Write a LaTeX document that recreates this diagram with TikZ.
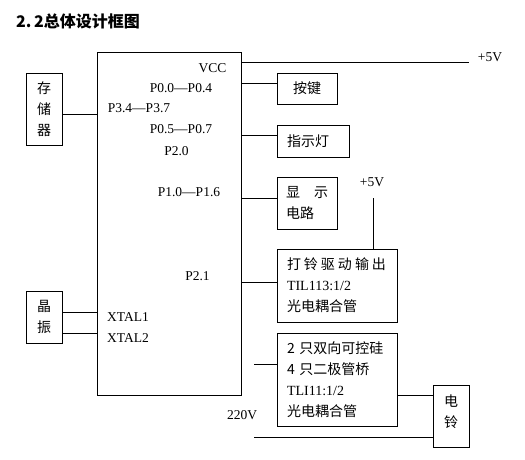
\documentclass[tikz,border=0pt]{standalone}
\usepackage{fontspec}
\setmainfont{Liberation Serif}
\newfontfamily\cjk{Noto Sans CJK SC}
\usetikzlibrary{positioning,calc}

\begin{document}
\begin{tikzpicture}[x=1pt,y=-1pt,
  box/.style={draw,line width=0.8pt,inner sep=0pt,font=\cjk\fontsize{14}{21}\selectfont},
  pin/.style={inner sep=0pt,font=\fontsize{13.5}{16}\selectfont},
  wire/.style={line width=0.8pt}]
  \useasboundingbox (0,0) rectangle (525,459);
  \node[anchor=west,inner sep=0pt,font=\cjk\bfseries\fontsize{16}{19}\selectfont] (title) at (16,21) {2.\,2总体设计框图};

  % single-chip controller
  \node[box,minimum width=144pt,minimum height=343pt] (mcu) at (169,223.5) {};
  \node[pin] (vcc) at (212.5,68) {VCC};
  \node[pin] (p00) at (181,88) {P0.0—P0.4};
  \node[pin] (p34) at (139,108) {P3.4—P3.7};
  \node[pin] (p05) at (181,129) {P0.5—P0.7};
  \node[pin] (p20) at (176.5,151) {P2.0};
  \node[pin] (p10) at (189,192) {P1.0—P1.6};
  \node[pin] (p21) at (197.5,276) {P2.1};
  \node[pin,anchor=west] (xt1) at (107,317) {XTAL1};
  \node[pin,anchor=west] (xt2) at (107,338) {XTAL2};

  % left side
  \node[box,minimum width=36pt,minimum height=72pt,align=center] (mem) at (44,109) {存\\储\\器};
  \node[box,minimum width=36pt,minimum height=52pt,align=center] (xtal) at (44,317) {晶\\振};

  % right side
  \node[box,minimum width=60pt,minimum height=31pt] (key) at (307,88.5) {按键};
  \node[box,minimum height=32pt,text width=52pt,inner xsep=10pt,align=left] (led) at (313,141) {指示灯};
  \node[box,minimum height=52pt,text width=42pt,inner xsep=9pt,align=left] (disp) at (307,203) {显\quad 示\\电路};
  \node[box,minimum height=73pt,text width=104pt,inner xsep=8pt,align=left] (ring) at (337,285.5)
    {\hspace{2pt}打\hspace{3pt}铃\hspace{3pt}驱\hspace{3pt}动\hspace{3pt}输\hspace{3pt}出\\\hspace{2pt}{\rmfamily TIL113:1/2}\\\hspace{2pt}光电耦合管};
  \node[box,minimum height=93pt,text width=100pt,inner xsep=10pt,align=left] (triac) at (337,379.5)
    {2 只双向可控硅\\4 只二极管桥\\{\rmfamily TLI11:1/2}\\光电耦合管};
  \node[box,minimum width=36pt,minimum height=62pt,align=center,text depth=10pt] (bell) at (451,416) {电\\铃};

  \node[pin] (vpos) at (490,57) {+5V};
  \node[pin] (vbell) at (372,182) {+5V};
  \node[pin] (vac) at (242,415) {220V};

  % wires
  \coordinate (vccend) at (469,62);
  \draw[wire] (mcu.east |- vccend) -- (vccend);
  \coordinate (memout) at ([yshift=-5pt]mem.east);
  \draw[wire] (memout) -- (memout -| mcu.west);
  \coordinate (xout1) at ([yshift=5pt]xtal.east);
  \coordinate (xout2) at ([yshift=-16pt]xtal.east);
  \draw[wire] (xout1) -- (xout1 -| mcu.west);
  \draw[wire] (xout2) -- (xout2 -| mcu.west);
  \coordinate (keyin) at ([yshift=5.5pt]key.west);
  \draw[wire] (keyin -| mcu.east) -- (keyin);
  \coordinate (ledin) at ([yshift=6pt]led.west);
  \draw[wire] (ledin -| mcu.east) -- (ledin);
  \coordinate (dispin) at ([yshift=5pt]disp.west);
  \draw[wire] (dispin -| mcu.east) -- (dispin);
  \coordinate (ringin) at ([yshift=3.5pt]ring.west);
  \draw[wire] (ringin -| mcu.east) -- (ringin);
  \coordinate (vtop) at (373,198);
  \draw[wire] (vtop) -- (vtop |- ring.north);
  \coordinate (acin) at (254,364);
  \draw[wire] (acin) -- (acin -| triac.west);
  \coordinate (bellin) at ([yshift=21pt]bell.west);
  \draw[wire] (bellin -| triac.east) -- (bellin);
  \coordinate (acret) at (254,437);
  \draw[wire] (acret) -- (acret -| bell.west);
\end{tikzpicture}
\end{document}
